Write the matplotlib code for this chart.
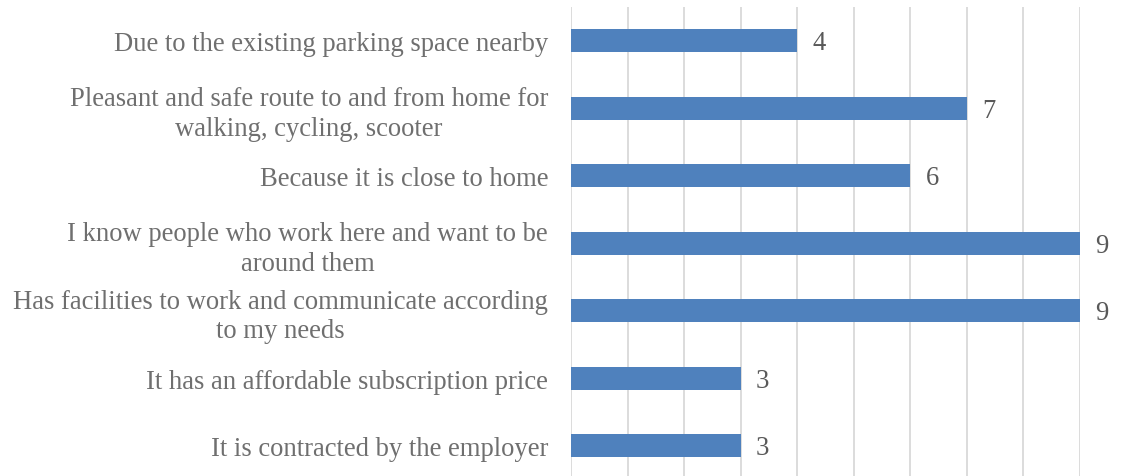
import matplotlib
matplotlib.use("Agg")
import matplotlib.pyplot as plt

categories = [
    "Due to the existing parking space nearby",
    "Pleasant and safe route to and from home for\nwalking, cycling, scooter",
    "Because it is close to home",
    "I know people who work here and want to be\naround them",
    "Has facilities to work and communicate according\nto my needs",
    "It has an affordable subscription price",
    "It is contracted by the employer",
]
values = [4, 7, 6, 9, 9, 3, 3]

plt.rcParams['font.family'] = ['Liberation Serif', 'DejaVu Serif']
fig = plt.figure(figsize=(11.31, 4.77), dpi=100)
W, H = 1131, 477
ax = fig.add_axes([571 / W, 0, (1080 - 571) / W, (477 - 8) / H])

ypos = list(range(len(categories)))
ax.barh(ypos, values, height=0.34, color='#4f81bd', zorder=3)
ax.set_xlim(0, 9)
ax.set_ylim(-0.5 + 469 / 67.5, -0.5)
ax.set_xticks(range(0, 10))
ax.xaxis.grid(True, color='#d9d9d9', linewidth=1.3, zorder=0)
ax.tick_params(axis='x', length=0, labelbottom=False)
ax.tick_params(axis='y', length=0, pad=16.5)
ax.set_yticks(ypos)
ax.set_yticklabels(categories, fontsize=19.2, color='#6f6f6f', linespacing=1.25)
for lab in ax.get_yticklabels():
    lab.set_horizontalalignment('right')
    lab.set_multialignment('center')
for s in ax.spines.values():
    s.set_visible(False)
for y, v in zip(ypos, values):
    ax.text(v + 0.27, y + 0.03, str(v), va='center', ha='left', fontsize=19.2, color='#595959')

fig.savefig('out.png', dpi=100)
